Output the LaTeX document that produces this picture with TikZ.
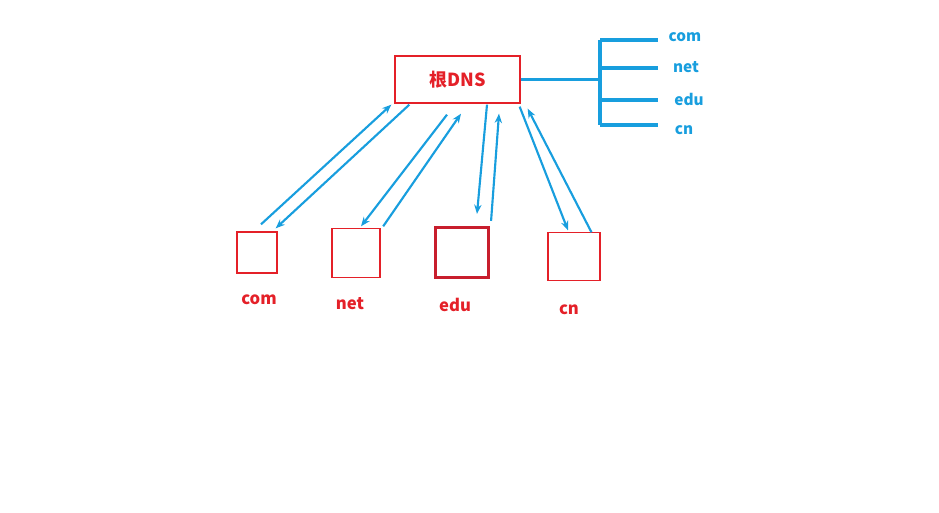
\documentclass[tikz,border=0pt]{standalone}
\usepackage{fontspec}
\newfontfamily\cjk{Noto Sans CJK SC}
\usetikzlibrary{arrows.meta,calc}
\definecolor{BoxClr}{RGB}{228,32,40}
\definecolor{EduClr}{RGB}{200,30,45}
\definecolor{LinkClr}{RGB}{24,158,222}

\begin{document}
\begin{tikzpicture}[x=0.75pt,y=-0.75pt,
  zone/.style={draw=BoxClr,line width=1pt,inner sep=0pt},
  zonelbl/.style={text=BoxClr,font=\cjk\bfseries\fontsize{12.5}{14}\selectfont},
  treelbl/.style={text=LinkClr,font=\cjk\bfseries\fontsize{11.5}{13}\selectfont},
  arr/.style={draw=LinkClr,line width=1.6pt,-{Stealth[length=7pt,width=5.5pt]}},
  tree/.style={draw=LinkClr,line width=2.6pt}]
\useasboundingbox (0,0) rectangle (939,513);

\node[zone,minimum width=125*0.75pt,minimum height=47*0.75pt,
  font=\cjk\bfseries\fontsize{13.5}{15}\selectfont,text=BoxClr] (root) at (457.5,79.5) {根DNS};

\node[zone,minimum width=40*0.75pt,minimum height=41*0.75pt] (com) at (257,252.5) {};
\node[zone,minimum width=48*0.75pt,minimum height=49*0.75pt] (net) at (356,253) {};
\node[zone,draw=EduClr,line width=1.6pt,minimum width=53*0.75pt,minimum height=50*0.75pt] (edu) at (462,252.5) {};
\node[zone,minimum width=52*0.75pt,minimum height=48*0.75pt] (cn) at (574,256.5) {};

\node[zonelbl] (comlbl) at (259,300) {com};
\node[zonelbl] (netlbl) at (350,304) {net};
\node[zonelbl] (edulbl) at (455,305) {edu};
\node[zonelbl] (cnlbl) at (569,310) {cn};

% queries and answers
\draw[arr] ($(com.north)+(4,-7)$) -- ($(root.south west)+(-3,1)$);
\draw[arr] ($(root.south west)+(15,1)$) -- ($(com.north east)+(-2,-3)$);
\draw[arr] ($(root.south)+(-10.5,11)$) -- ($(net.north)+(5,-1.5)$);
\draw[arr] ($(net.north east)+(2.5,-1.5)$) -- ($(root.south)+(3.5,10)$);
\draw[arr] ($(root.south)+(29.5,1)$) -- ($(edu.north)+(15,-12.5)$);
\draw[arr] ($(edu.north east)+(1.5,-5.5)$) -- ($(root.south)+(41.5,10)$);
\draw[arr] ($(root.south east)+(-1,3)$) -- ($(cn.north)+(-6,-1.5)$);
\draw[arr] ($(cn.north)+(17.5,0.5)$) -- ($(root.south east)+(7,5)$);

% tree of top level domains
\coordinate (hub) at (root.east -| 600,0);
\draw[tree] (root.east) -- (hub);
\draw[tree] (600,40) -- (600,125);
\foreach \y/\lx/\ly/\name in {40/685/37/com,68/686/67/net,100/689/99/edu,125/684/130/cn}{
  \coordinate (b\name) at (600,\y);
  \draw[tree] (b\name) -- ++(58,0);
  \node[treelbl] (t\name) at (\lx,\ly) {\name};
}

\end{tikzpicture}
\end{document}
